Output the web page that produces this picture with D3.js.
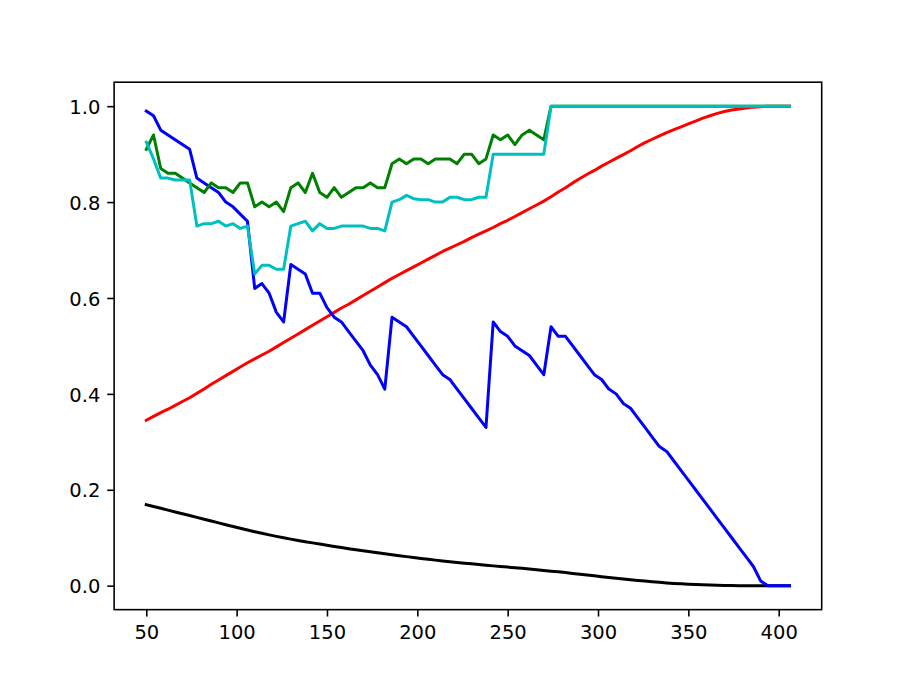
<!DOCTYPE html>
<html>
<head>
<meta charset="utf-8">
<script src="https://cdn.jsdelivr.net/npm/d3@7"></script>
<style>
  html, body { margin: 0; padding: 0; background: #ffffff; }
  svg { display: block; }
  text { font-family: "DejaVu Sans", sans-serif; }
</style>
</head>
<body>
<div id="chart"></div>
<script>
// ---- data ----
const xStart = 50, xStep = 4, nPoints = 90;
const xValues = d3.range(nPoints).map(i => xStart + xStep * i);

const blueValues = [
  0.99, 0.98, 0.95, 0.94, 0.93, 0.92, 0.91, 0.85, 0.84, 0.83,
  0.82, 0.80, 0.79, 0.775, 0.76, 0.62, 0.63, 0.61, 0.57, 0.55,
  0.67, 0.66, 0.65, 0.61, 0.61, 0.58, 0.56, 0.55, 0.53, 0.51,
  0.49, 0.46, 0.44, 0.41, 0.56, 0.55, 0.54, 0.52, 0.50, 0.48,
  0.46, 0.44, 0.43, 0.41, 0.39, 0.37, 0.35, 0.33, 0.55, 0.53,
  0.52, 0.50, 0.49, 0.48, 0.46, 0.44, 0.54, 0.52, 0.52, 0.50,
  0.48, 0.46, 0.44, 0.43, 0.41, 0.40, 0.38, 0.37, 0.35, 0.33,
  0.31, 0.29, 0.28, 0.26, 0.24, 0.22, 0.20, 0.18, 0.16, 0.14,
  0.12, 0.10, 0.08, 0.06, 0.04, 0.01, 0.0, 0.0, 0.0, 0.0
];

const greenValues = [
  0.91, 0.94, 0.87, 0.86, 0.86, 0.85, 0.84, 0.83, 0.82, 0.84,
  0.83, 0.83, 0.82, 0.84, 0.84, 0.79, 0.80, 0.79, 0.80, 0.78,
  0.83, 0.84, 0.82, 0.86, 0.82, 0.81, 0.83, 0.81, 0.82, 0.83,
  0.83, 0.84, 0.83, 0.83, 0.88, 0.89, 0.88, 0.89, 0.89, 0.88,
  0.89, 0.89, 0.89, 0.88, 0.90, 0.90, 0.88, 0.89, 0.94, 0.93,
  0.94, 0.92, 0.94, 0.95, 0.94, 0.93, 1.0, 1.0, 1.0, 1.0,
  1.0, 1.0, 1.0, 1.0, 1.0, 1.0, 1.0, 1.0, 1.0, 1.0,
  1.0, 1.0, 1.0, 1.0, 1.0, 1.0, 1.0, 1.0, 1.0, 1.0,
  1.0, 1.0, 1.0, 1.0, 1.0, 1.0, 1.0, 1.0, 1.0, 1.0
];

const cyanValues = [
  0.925, 0.89, 0.85, 0.85, 0.846, 0.846, 0.846, 0.75, 0.755, 0.755,
  0.76, 0.75, 0.755, 0.745, 0.75, 0.65, 0.668, 0.668, 0.66, 0.66,
  0.75, 0.755, 0.76, 0.74, 0.755, 0.745, 0.745, 0.75, 0.75, 0.75,
  0.75, 0.745, 0.745, 0.74, 0.80, 0.805, 0.814, 0.807, 0.805, 0.805,
  0.80, 0.80, 0.81, 0.81, 0.805, 0.805, 0.81, 0.81, 0.90, 0.90,
  0.90, 0.90, 0.90, 0.90, 0.90, 0.90, 1.0, 1.0, 1.0, 1.0,
  1.0, 1.0, 1.0, 1.0, 1.0, 1.0, 1.0, 1.0, 1.0, 1.0,
  1.0, 1.0, 1.0, 1.0, 1.0, 1.0, 1.0, 1.0, 1.0, 1.0,
  1.0, 1.0, 1.0, 1.0, 1.0, 1.0, 1.0, 1.0, 1.0, 1.0
];

const redValues = [
  0.345, 0.353, 0.361, 0.368, 0.376, 0.384, 0.392, 0.401, 0.410, 0.420,
  0.429, 0.438, 0.447, 0.456, 0.465, 0.473, 0.481, 0.489, 0.498, 0.507,
  0.516, 0.525, 0.534, 0.543, 0.552, 0.561, 0.570, 0.579, 0.587, 0.596,
  0.605, 0.614, 0.623, 0.632, 0.641, 0.649, 0.657, 0.665, 0.673, 0.681,
  0.689, 0.697, 0.704, 0.711, 0.718, 0.726, 0.733, 0.740, 0.747, 0.755,
  0.762, 0.770, 0.778, 0.786, 0.794, 0.802, 0.811, 0.821, 0.830, 0.840,
  0.849, 0.858, 0.866, 0.875, 0.883, 0.891, 0.899, 0.907, 0.916, 0.924,
  0.931, 0.938, 0.945, 0.951, 0.957, 0.963, 0.969, 0.975, 0.980, 0.985,
  0.989, 0.992, 0.994, 0.996, 0.998, 0.999, 1.0, 1.0, 1.0, 1.0
];

const blackValues = [
  0.1690, 0.1652, 0.1614, 0.1576, 0.1538, 0.1500, 0.1462, 0.1424, 0.1386, 0.1348,
  0.1310, 0.1272, 0.1234, 0.1197, 0.1161, 0.1126, 0.1092, 0.1059, 0.1028, 0.0999,
  0.0971, 0.0944, 0.0918, 0.0893, 0.0868, 0.0843, 0.0818, 0.0794, 0.0770, 0.0749,
  0.0728, 0.0707, 0.0686, 0.0665, 0.0644, 0.0625, 0.0606, 0.0587, 0.0568, 0.0549,
  0.0533, 0.0517, 0.0501, 0.0485, 0.0469, 0.0455, 0.0441, 0.0427, 0.0413, 0.0400,
  0.0387, 0.0374, 0.0361, 0.0348, 0.0333, 0.0318, 0.0303, 0.0288, 0.0273, 0.0256,
  0.0239, 0.0222, 0.0205, 0.0188, 0.0172, 0.0156, 0.0140, 0.0124, 0.0110, 0.0096,
  0.0082, 0.0069, 0.0057, 0.0047, 0.0038, 0.0030, 0.0023, 0.0017, 0.0012, 0.0008,
  0.0005, 0.0003, 0.0001, 0.0, 0.0, 0.0, 0.0, 0.0, 0.0, 0.0
];

const xTicks = [50, 100, 150, 200, 250, 300, 350, 400];
const yTicks = [0.0, 0.2, 0.4, 0.6, 0.8, 1.0];

// drawing order (later = on top)
const seriesList = [
  { name: "red",   values: redValues,   color: "#ff0000" },
  { name: "black", values: blackValues, color: "#000000" },
  { name: "blue",  values: blueValues,  color: "#0000ff" },
  { name: "green", values: greenValues, color: "#008000" },
  { name: "cyan",  values: cyanValues,  color: "#00bfbf" }
];

// ---- layout ----
const W = 913, H = 685;
const plotLeft = 0.125 * W, plotRight = 0.9 * W;
const plotTop = H * (1 - 0.88), plotBottom = H * (1 - 0.11);
const lineWidth = 3.0;
const spineWidth = 1.58;
const tickLen = 6.9, tickPad = 6.9;
const fontSize = 19.5;

const xMin = d3.min(xValues), xMax = d3.max(xValues);
const xMarg = 0.05 * (xMax - xMin);
const x = d3.scaleLinear().domain([xMin - xMarg, xMax + xMarg]).range([plotLeft, plotRight]);
const y = d3.scaleLinear().domain([-0.05, 1.05]).range([plotBottom, plotTop]);

const svg = d3.select("#chart").append("svg")
  .attr("width", W).attr("height", H)
  .attr("viewBox", `0 0 ${W} ${H}`);

svg.append("rect").attr("width", W).attr("height", H).attr("fill", "#ffffff");

svg.append("clipPath").attr("id", "plotclip")
  .append("rect").attr("x", plotLeft).attr("y", plotTop)
  .attr("width", plotRight - plotLeft).attr("height", plotBottom - plotTop);

const lineGen = d3.line()
  .x((d, i) => x(xValues[i]))
  .y(d => y(d));

const plot = svg.append("g").attr("clip-path", "url(#plotclip)");
seriesList.forEach(s => {
  plot.append("path")
    .datum(s.values)
    .attr("d", lineGen)
    .attr("fill", "none")
    .attr("stroke", s.color)
    .attr("stroke-width", lineWidth)
    .attr("stroke-linejoin", "round")
    .attr("stroke-linecap", "square");
});

// axes
const xAxis = d3.axisBottom(x).tickValues(xTicks).tickFormat(d3.format("d"))
  .tickSize(tickLen).tickPadding(tickPad);
const yAxis = d3.axisLeft(y).tickValues(yTicks).tickFormat(d3.format(".1f"))
  .tickSize(tickLen).tickPadding(tickPad);

const gx = svg.append("g").attr("transform", `translate(0,${plotBottom})`).call(xAxis);
const gy = svg.append("g").attr("transform", `translate(${plotLeft},0)`).call(yAxis);

[gx, gy].forEach(g => {
  g.select(".domain").remove();
  g.selectAll(".tick line").attr("stroke", "#000").attr("stroke-width", spineWidth);
  g.selectAll(".tick text")
    .attr("fill", "#000")
    .style("font-size", fontSize + "px")
    .style("font-family", "'DejaVu Sans', sans-serif");
});
gx.selectAll(".tick text").attr("dy", "0.79em");
gy.selectAll(".tick text").attr("dy", "0.37em");

// frame
svg.append("rect")
  .attr("x", plotLeft).attr("y", plotTop)
  .attr("width", plotRight - plotLeft).attr("height", plotBottom - plotTop)
  .attr("fill", "none").attr("stroke", "#000")
  .attr("stroke-width", spineWidth)
  .attr("stroke-linejoin", "miter");
</script>
</body>
</html>
